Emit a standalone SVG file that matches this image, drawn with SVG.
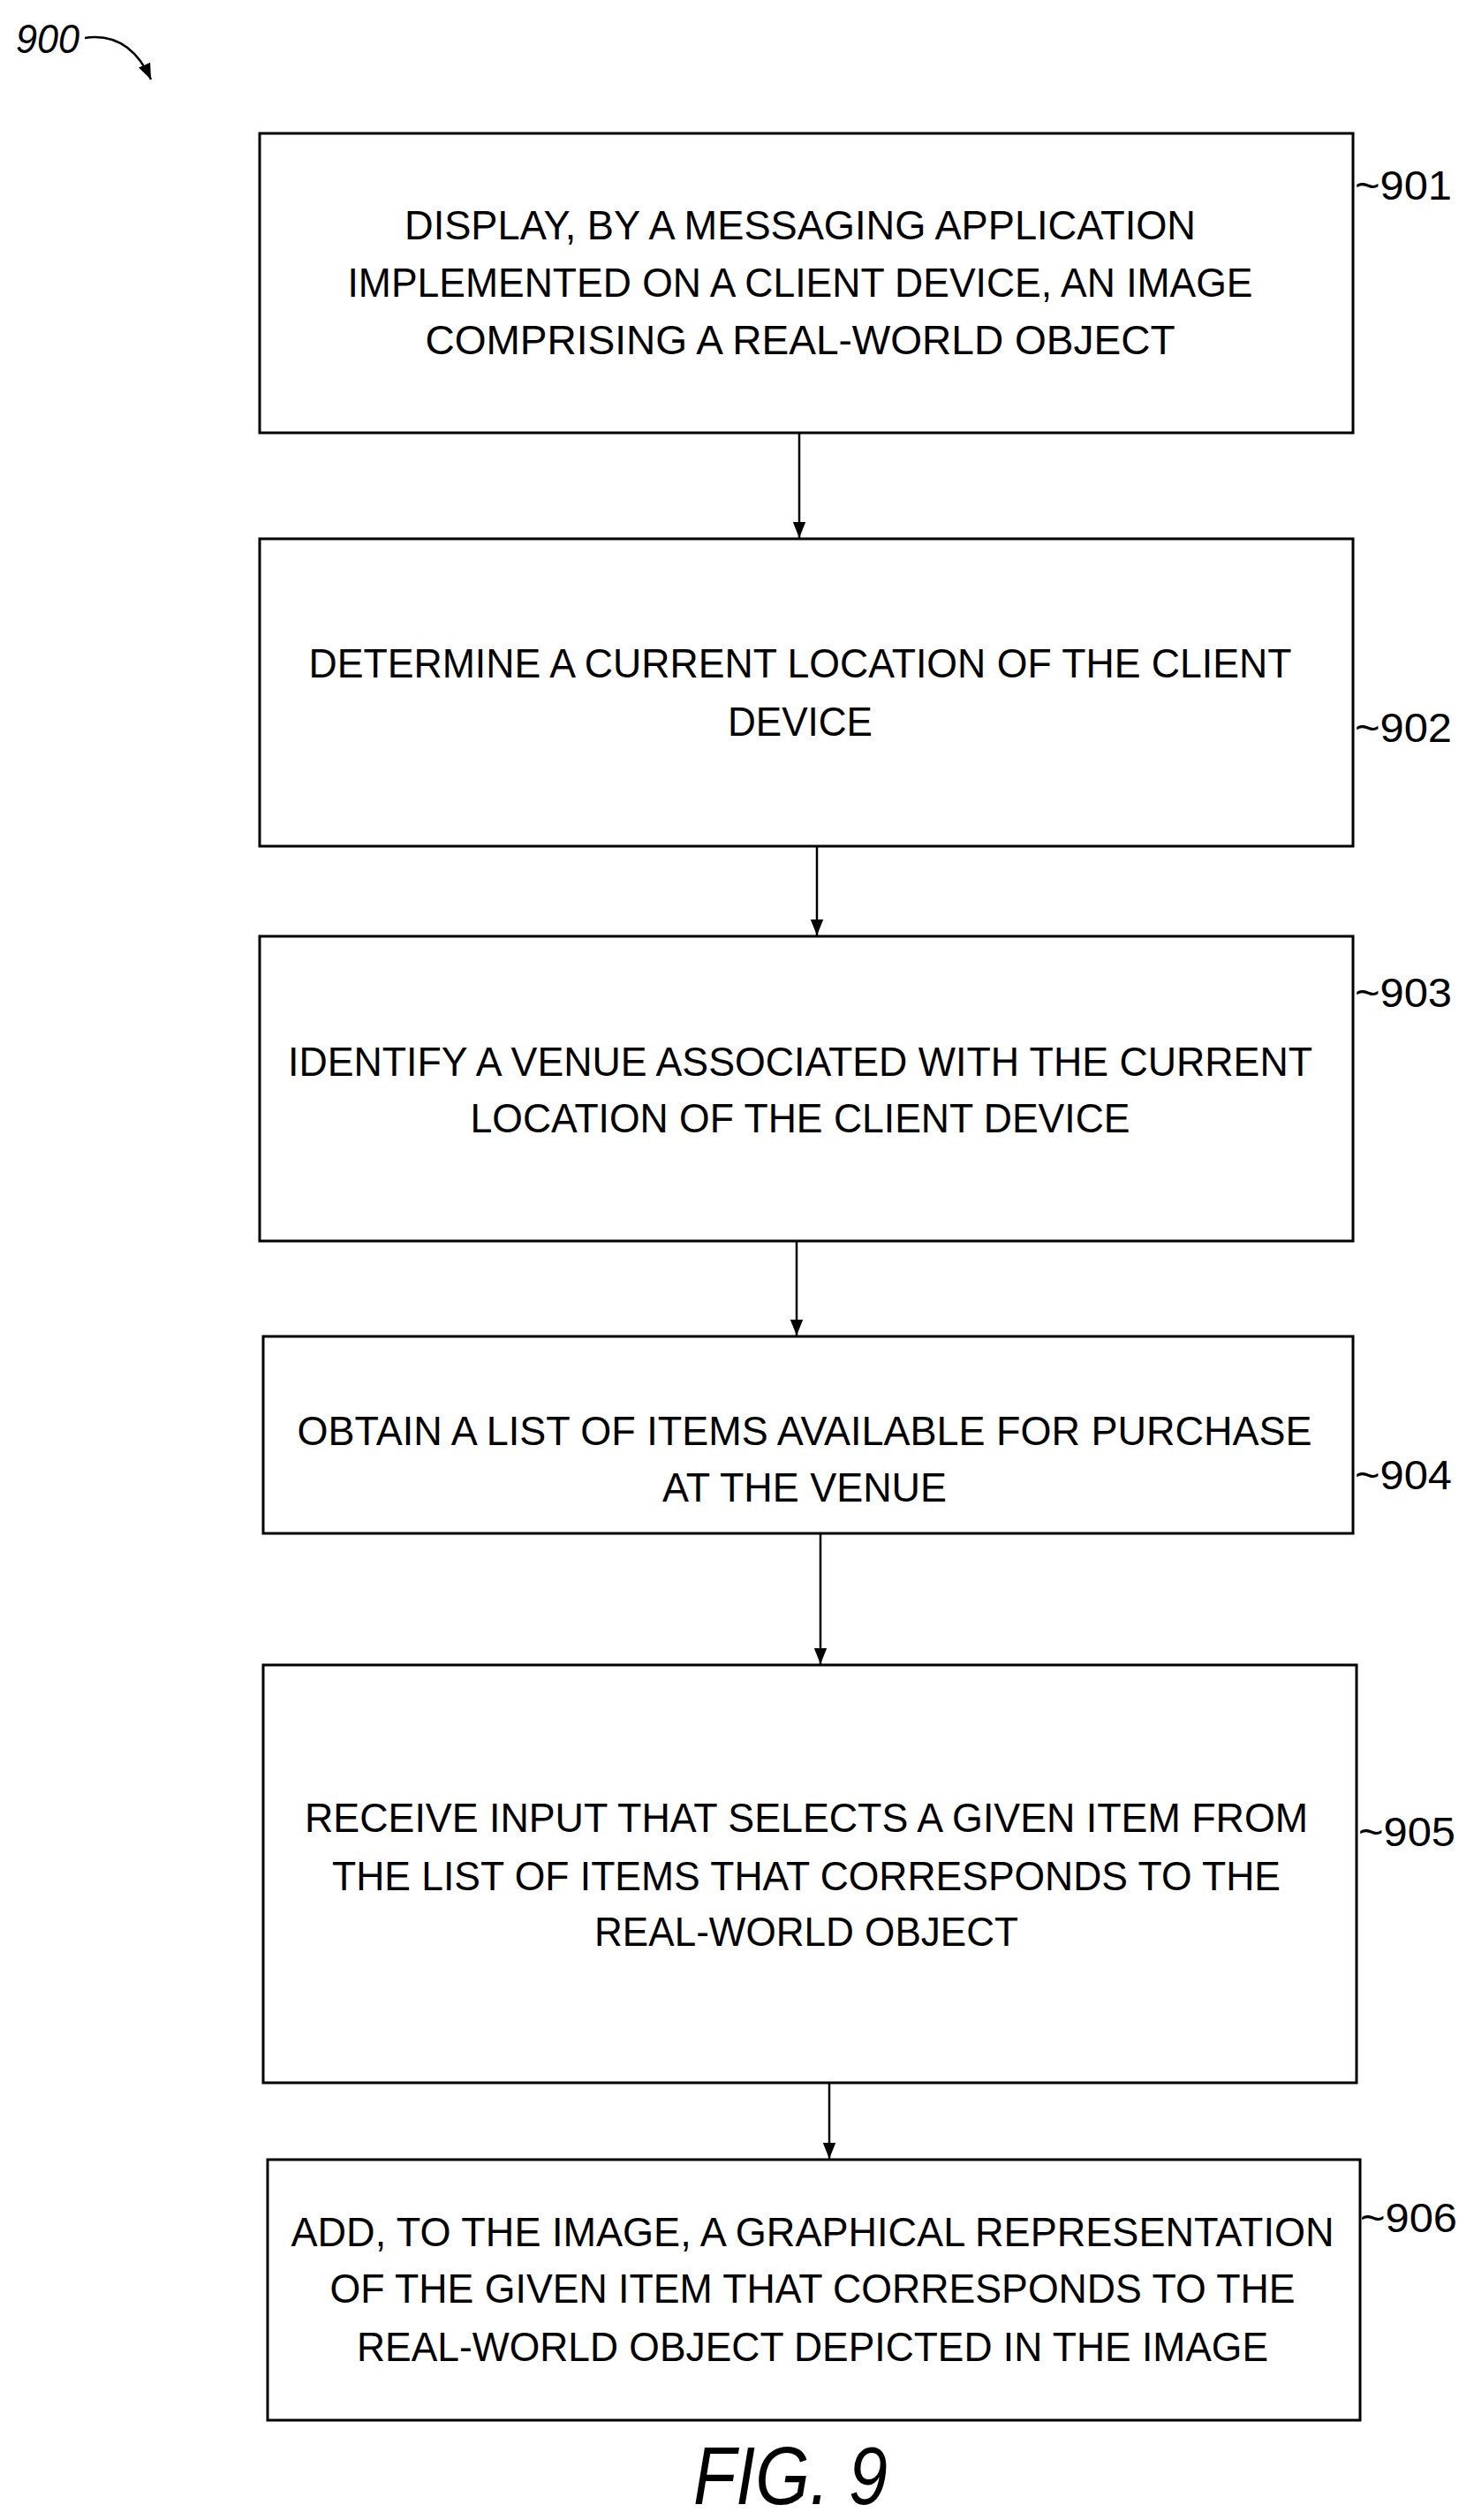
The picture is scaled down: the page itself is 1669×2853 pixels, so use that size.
<svg xmlns="http://www.w3.org/2000/svg" width="1669" height="2853" viewBox="0 0 1669 2853">
<style>
.b{fill:#fff;stroke:#000;stroke-width:3}
.t{font-family:"Liberation Sans",Arial,sans-serif;font-size:46px;fill:#000;text-anchor:middle}
.l{font-family:"Liberation Sans",Arial,sans-serif;font-size:46px;fill:#000}
.c{stroke:#000;stroke-width:2.5;fill:none}
</style>
<defs><marker id="a" viewBox="0 0 10 10" refX="10" refY="5" markerWidth="10" markerHeight="10" markerUnits="userSpaceOnUse" orient="auto"><path d="M0,0L10,5L0,10z" fill="#000"/></marker>
<marker id="m" viewBox="0 0 10 10" refX="10" refY="5" markerWidth="18" markerHeight="18" markerUnits="userSpaceOnUse" orient="auto"><path d="M0,1L10,5L0,9z" fill="#000"/></marker></defs>
<rect width="1669" height="2853" fill="#fff"/>
<g id="label900"><text x="18" y="60" class="l" font-style="italic" textLength="72" lengthAdjust="spacingAndGlyphs">900</text>
<path class="c" d="M96,43 C130,38 155,55 171,90" marker-end="url(#m)"/></g>
<g id="n901"><rect class="b" x="294" y="151" width="1238" height="339"/>
<text class="t" x="906" y="271" textLength="896" lengthAdjust="spacingAndGlyphs">DISPLAY, BY A MESSAGING APPLICATION</text>
<text class="t" x="906" y="336" textLength="1025" lengthAdjust="spacingAndGlyphs">IMPLEMENTED ON A CLIENT DEVICE, AN IMAGE</text>
<text class="t" x="906" y="401" textLength="849" lengthAdjust="spacingAndGlyphs">COMPRISING A REAL-WORLD OBJECT</text>
<text class="l" x="1534" y="226" textLength="110" lengthAdjust="spacingAndGlyphs">~901</text></g>
<g id="n902"><rect class="b" x="294" y="610" width="1238" height="348"/>
<text class="t" x="906" y="767" textLength="1113" lengthAdjust="spacingAndGlyphs">DETERMINE A CURRENT LOCATION OF THE CLIENT</text>
<text class="t" x="906" y="833" textLength="164" lengthAdjust="spacingAndGlyphs">DEVICE</text>
<text class="l" x="1534" y="840" textLength="110" lengthAdjust="spacingAndGlyphs">~902</text></g>
<g id="n903"><rect class="b" x="294" y="1060" width="1238" height="345"/>
<text class="t" x="906" y="1218" textLength="1160" lengthAdjust="spacingAndGlyphs">IDENTIFY A VENUE ASSOCIATED WITH THE CURRENT</text>
<text class="t" x="906" y="1282" textLength="747" lengthAdjust="spacingAndGlyphs">LOCATION OF THE CLIENT DEVICE</text>
<text class="l" x="1534" y="1140" textLength="110" lengthAdjust="spacingAndGlyphs">~903</text></g>
<g id="n904"><rect class="b" x="298" y="1513" width="1234" height="223"/>
<text class="t" x="911" y="1636" textLength="1149" lengthAdjust="spacingAndGlyphs">OBTAIN A LIST OF ITEMS AVAILABLE FOR PURCHASE</text>
<text class="t" x="911" y="1700" textLength="322" lengthAdjust="spacingAndGlyphs">AT THE VENUE</text>
<text class="l" x="1534" y="1686" textLength="110" lengthAdjust="spacingAndGlyphs">~904</text></g>
<g id="n905"><rect class="b" x="298" y="1885" width="1238" height="473"/>
<text class="t" x="913" y="2074" textLength="1136" lengthAdjust="spacingAndGlyphs">RECEIVE INPUT THAT SELECTS A GIVEN ITEM FROM</text>
<text class="t" x="913" y="2140" textLength="1074" lengthAdjust="spacingAndGlyphs">THE LIST OF ITEMS THAT CORRESPONDS TO THE</text>
<text class="t" x="913" y="2203" textLength="480" lengthAdjust="spacingAndGlyphs">REAL-WORLD OBJECT</text>
<text class="l" x="1538" y="2090" textLength="110" lengthAdjust="spacingAndGlyphs">~905</text></g>
<g id="n906"><rect class="b" x="303" y="2445" width="1237" height="295"/>
<text class="t" x="920" y="2543" textLength="1181" lengthAdjust="spacingAndGlyphs">ADD, TO THE IMAGE, A GRAPHICAL REPRESENTATION</text>
<text class="t" x="920" y="2607" textLength="1093" lengthAdjust="spacingAndGlyphs">OF THE GIVEN ITEM THAT CORRESPONDS TO THE</text>
<text class="t" x="920" y="2673" textLength="1032" lengthAdjust="spacingAndGlyphs">REAL-WORLD OBJECT DEPICTED IN THE IMAGE</text>
<text class="l" x="1540" y="2527" textLength="110" lengthAdjust="spacingAndGlyphs">~906</text></g>
<g id="connectors" marker-end="url(#m)">
<line class="c" x1="905" y1="490" x2="905" y2="609" marker-end="url(#m)"/>
<line class="c" x1="925" y1="958" x2="925" y2="1059" marker-end="url(#m)"/>
<line class="c" x1="902" y1="1405" x2="902" y2="1512" marker-end="url(#m)"/>
<line class="c" x1="929" y1="1736" x2="929" y2="1884" marker-end="url(#m)"/>
<line class="c" x1="939" y1="2358" x2="939" y2="2444" marker-end="url(#m)"/>
</g>
<text x="785" y="2835" font-family="Liberation Sans,Arial,sans-serif" font-style="italic" font-size="92" textLength="220" lengthAdjust="spacingAndGlyphs">FIG. 9</text>
</svg>
